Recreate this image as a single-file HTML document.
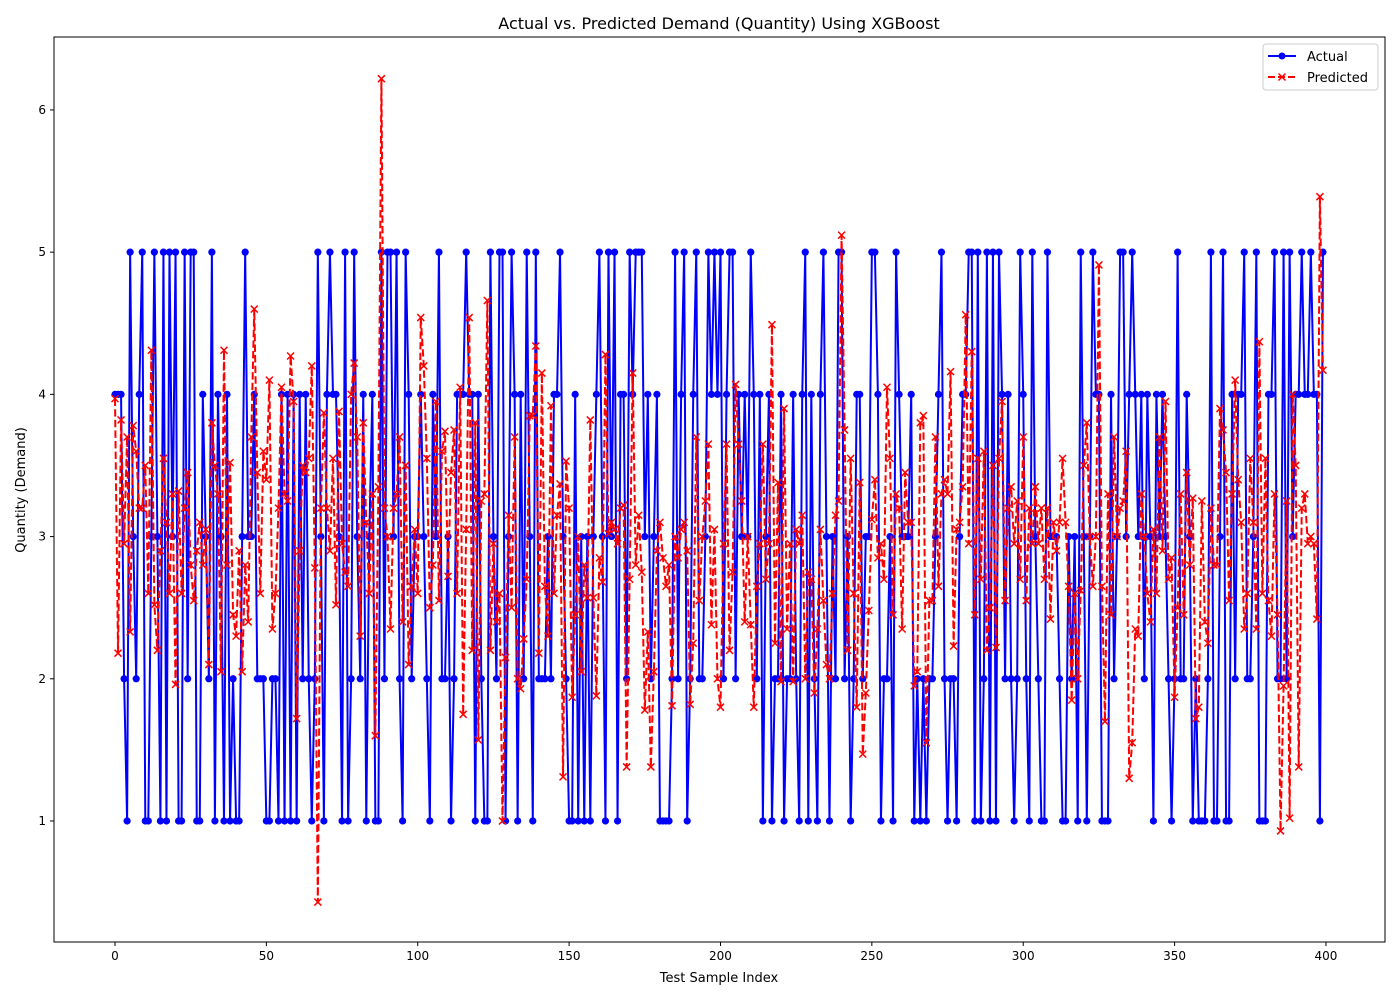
<!DOCTYPE html>
<html><head><meta charset="utf-8"><style>
html,body{margin:0;padding:0;background:#fff;}
svg{display:block;font-family:"DejaVu Sans","Liberation Sans",sans-serif;}
</style></head><body>
<svg id="chart" width="1400" height="1000" viewBox="0 0 1400 1000" xmlns="http://www.w3.org/2000/svg">
<rect width="1400" height="1000" fill="#fff"/>
<text x="719" y="29" font-size="16" text-anchor="middle">Actual vs. Predicted Demand (Quantity) Using XGBoost</text>
<g id="plot"></g>
<rect x="54" y="37" width="1331" height="905" fill="none" stroke="#000" stroke-width="1"/>
<g id="ticks"></g>
<text x="719" y="982" font-size="13" text-anchor="middle">Test Sample Index</text>
<text x="25" y="490" font-size="13" text-anchor="middle" transform="rotate(-90 25 490)">Quantity (Demand)</text>
<g>
<rect x="1263" y="44" width="115" height="46" rx="3" fill="#fff" fill-opacity="0.8" stroke="#ccc"/>
<g>
<line x1="1268" y1="56" x2="1296" y2="56" stroke="#0000ff" stroke-width="2"/>
<circle cx="1282" cy="56" r="3.5" fill="#0000ff"/>
<text x="1307" y="61" font-size="13">Actual</text></g>
<g>
<line x1="1268" y1="77" x2="1296" y2="77" stroke="#ff0000" stroke-width="2" stroke-dasharray="7,3"/>
<path d="M1278.5 73.5L1285.5 80.5M1285.5 73.5L1278.5 80.5" stroke="#ff0000" stroke-width="1.5"/>
<text x="1307" y="82" font-size="13">Predicted</text></g>
</g>
</svg>
<script>
const actual=[4,4,4,2,1,5,3,2,4,5,1,1,3,5,3,1,5,1,5,3,5,1,1,5,2,5,5,1,1,4,3,2,5,1,4,3,1,4,1,2,1,1,3,5,3,3,4,2,2,2,1,1,2,2,1,4,1,4,1,4,1,4,2,4,2,1,2,5,3,1,4,5,4,4,3,1,5,1,2,5,3,2,4,1,3,4,1,1,5,2,5,5,3,5,2,1,5,4,2,3,3,4,3,2,1,4,3,5,2,2,3,1,2,4,4,4,5,4,4,1,4,2,1,1,5,3,2,5,5,1,3,5,4,1,4,2,5,3,1,5,2,2,2,3,2,4,4,5,3,2,1,1,4,1,3,1,3,1,3,4,5,3,1,5,3,5,1,4,4,2,5,4,5,5,5,3,4,2,3,4,1,1,1,1,2,5,2,4,5,1,2,4,5,2,2,3,5,4,5,4,5,2,4,5,5,2,4,3,4,3,5,4,2,4,1,3,4,1,2,2,4,1,2,2,4,2,1,4,5,1,4,2,1,4,5,3,1,3,2,5,5,2,3,1,2,4,4,2,3,3,5,5,4,1,2,2,3,1,5,4,3,3,3,4,1,2,1,2,1,2,2,3,4,5,2,1,2,2,1,3,4,4,5,5,1,5,1,2,5,1,5,1,5,4,2,4,2,1,2,5,4,2,1,5,3,2,1,1,5,3,3,3,2,1,1,3,2,3,1,5,3,1,3,5,4,4,1,1,1,4,2,3,5,5,3,4,5,4,3,4,2,4,3,1,4,3,4,3,2,1,2,5,2,2,4,3,1,2,1,1,1,2,5,1,1,3,5,1,1,4,2,4,4,5,2,2,3,5,1,1,1,4,4,5,2,2,5,2,5,3,4,4,5,4,4,5,4,4,1,5];
const predicted=[3.97,2.18,3.82,2.95,3.7,2.33,3.78,3.6,3.2,3.2,3.5,2.6,4.31,2.52,2.2,2.9,3.55,3.1,2.6,3.3,
1.96,3.32,2.6,3.2,3.45,2.8,2.55,2.9,3.1,2.8,3.05,2.1,3.8,3.5,3.3,2.05,4.31,2.8,3.52,2.45,
2.3,2.9,2.05,2.8,2.4,3.7,4.6,3.45,2.6,3.6,3.4,4.1,2.35,2.6,3.2,4.05,3.3,3.25,4.27,3.95,
1.72,2.9,3.5,3.45,3.55,4.2,2.78,0.43,3.2,3.87,3.2,2.9,3.55,2.52,3.88,2.95,2.75,2.65,4.0,4.22,
3.7,2.3,3.8,3.1,2.6,3.3,1.6,3.35,6.22,3.2,3.0,2.35,3.2,3.3,3.7,2.4,3.5,2.1,2.65,3.05,
2.6,4.54,4.2,3.55,2.5,2.8,3.95,2.55,3.6,3.74,2.72,3.45,3.75,2.6,4.05,1.75,3.05,4.54,2.2,3.8,
1.57,3.25,3.3,4.66,2.2,2.95,2.4,2.6,1.0,2.15,3.15,2.5,3.7,2.0,1.93,2.28,2.7,3.85,3.85,4.34,
2.18,4.15,2.65,2.3,3.92,2.6,3.15,3.37,1.31,3.53,3.2,1.87,2.45,3.0,2.05,2.8,2.57,3.82,2.57,1.88,
2.85,2.68,4.28,3.02,3.1,3.05,2.95,3.2,3.22,1.38,2.7,4.15,2.8,3.15,2.75,1.78,2.33,1.38,2.05,2.9,
3.1,2.85,2.65,2.8,1.81,3.0,2.85,3.05,3.1,2.9,1.82,2.25,3.7,2.55,3.0,3.25,3.65,2.38,3.05,2.0,
1.8,2.95,3.65,2.2,2.75,4.07,3.65,3.25,2.4,3.0,2.38,1.8,2.65,2.95,3.65,2.7,2.95,4.49,2.25,3.38,
1.98,3.9,2.35,2.95,1.98,3.05,2.95,3.15,2.0,2.75,2.7,1.9,2.35,3.05,2.55,2.1,2.0,2.6,3.15,3.25,
5.12,3.75,2.2,3.55,2.6,1.8,3.38,1.47,1.9,2.48,3.12,3.4,2.85,2.95,2.7,4.05,3.55,2.45,3.3,3.2,
2.35,3.45,3.1,3.1,1.95,2.05,3.8,3.85,1.55,2.55,2.55,3.7,2.65,3.3,3.4,3.3,4.16,2.23,3.05,3.1,
3.35,4.56,2.95,4.3,2.45,3.55,2.7,3.6,2.2,2.5,3.5,2.22,3.55,3.95,2.55,3.2,3.35,2.95,3.25,2.7,
3.7,2.55,3.2,2.95,3.35,2.95,3.2,2.7,3.2,2.42,3.1,2.9,3.1,3.55,3.1,2.65,1.85,2.6,2.0,2.62,
3.5,3.8,3.0,2.65,3.0,4.91,2.65,1.7,3.3,2.45,3.7,3.0,3.2,3.25,3.6,1.3,1.55,2.35,2.3,3.3,
3.0,2.6,2.4,3.05,2.6,3.7,2.9,3.95,2.7,2.85,1.87,2.5,3.3,2.45,3.45,2.8,3.27,1.72,1.8,3.25,
2.4,2.25,3.2,2.8,2.8,3.9,3.75,3.45,2.55,3.3,4.1,3.4,3.1,2.35,2.6,3.55,3.1,2.35,4.37,2.6,
3.55,2.55,2.3,3.3,2.45,0.93,1.95,3.25,1.02,4.0,3.5,1.38,3.2,3.3,2.95,3.0,2.95,2.42,5.39,4.17];
const xTicks=[0,50,100,150,200,250,300,350,400];
const yTicks=[1,2,3,4,5,6];

const NS='http://www.w3.org/2000/svg';
const X0=54,X1=1385,Y0=37,Y1=942;
const xMin=-20.15,xMax=419.5,yMin=0.149,yMax=6.513;
function sx(v){return X0+(v-xMin)/(xMax-xMin)*(X1-X0);}
function sy(v){return Y1-(v-yMin)/(yMax-yMin)*(Y1-Y0);}
function mk(tag,attrs,parent){const e=document.createElementNS(NS,tag);for(const k in attrs)e.setAttribute(k,attrs[k]);parent.appendChild(e);return e;}
const plot=document.getElementById('plot');
const ticks=document.getElementById('ticks');

xTicks.forEach(t=>{
  const g=mk('g',{},ticks);
  
  
  mk('line',{x1:sx(t),x2:sx(t),y1:Y1,y2:Y1+4,stroke:'#000'},g);
  const tx=mk('text',{x:sx(t),y:Y1+18,'font-size':12,'text-anchor':'middle'},g);tx.textContent=t;
});
yTicks.forEach(t=>{
  const g=mk('g',{},ticks);
  
  
  mk('line',{x1:X0-4,x2:X0,y1:sy(t),y2:sy(t),stroke:'#000'},g);
  const tx=mk('text',{x:X0-8,y:sy(t)+4,'font-size':12,'text-anchor':'end'},g);tx.textContent=t;
});

const aG=mk('g',{},plot);


const aLine=mk('polyline',{points:actual.map((v,i)=>sx(i)+','+sy(v)).join(' '),fill:'none',stroke:'#0000ff','stroke-width':2,'stroke-linejoin':'round'},aG);


actual.forEach((v,i)=>{
  const c=mk('circle',{cx:sx(i),cy:sy(v),r:3.6,fill:'#0000ff'},aG);
  
  
});
const pG=mk('g',{},plot);


const pLine=mk('polyline',{points:predicted.map((v,i)=>sx(i)+','+sy(v)).join(' '),fill:'none',stroke:'#ff0000','stroke-width':2,'stroke-dasharray':'7.4,3.2','stroke-linejoin':'round'},pG);


predicted.forEach((v,i)=>{
  const x=sx(i),y=sy(v),s=3.5;
  const p=mk('path',{d:`M${x-s} ${y-s}L${x+s} ${y+s}M${x+s} ${y-s}L${x-s} ${y+s}`,stroke:'#ff0000','stroke-width':1.5},pG);
  
  
});
</script>
</body></html>
